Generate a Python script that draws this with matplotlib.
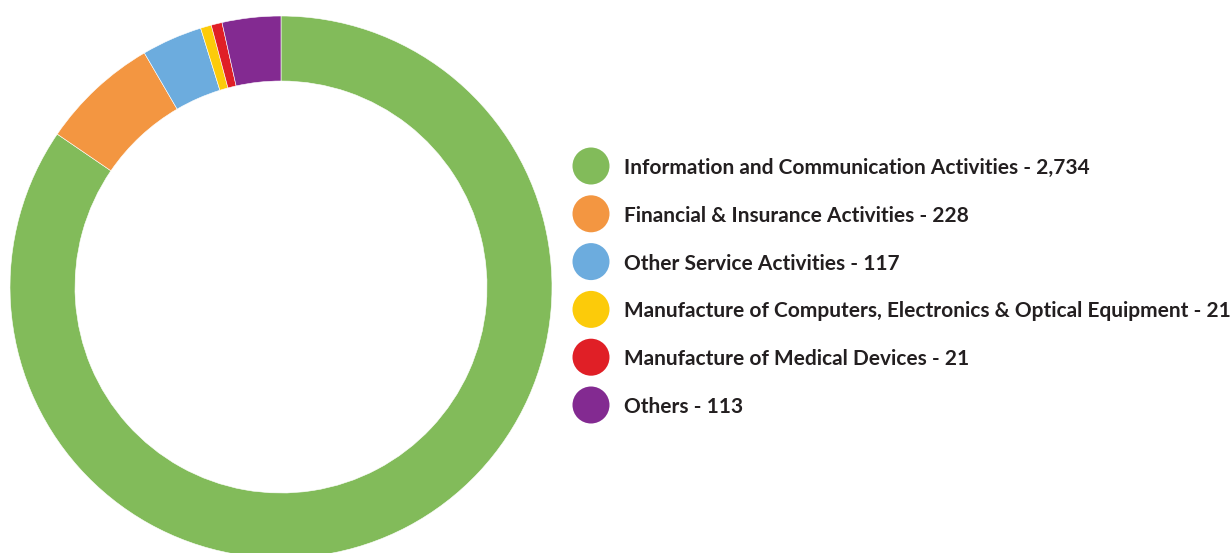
import matplotlib
matplotlib.use("Agg")
import matplotlib.pyplot as plt
from matplotlib.patches import Circle

categories = [
    "Information and Communication Activities",
    "Financial & Insurance Activities",
    "Other Service Activities",
    "Manufacture of Computers, Electronics & Optical Equipment",
    "Manufacture of Medical Devices",
    "Others",
]
values = [2734, 228, 117, 21, 21, 113]
colors = ["#82BB5A", "#F39641", "#6CACDE", "#FCCB0A", "#E01F26", "#832A91"]

W, H = 1230, 553
fig = plt.figure(figsize=(W / 100, H / 100), dpi=100)
ax = fig.add_axes([0, 0, 1, 1])
ax.set_axis_off()

ax.pie(values, colors=colors, startangle=90, counterclock=False,
       center=(281, H - 287), radius=271,
       wedgeprops=dict(width=65, edgecolor="white", linewidth=0.4))
ax.set_xlim(0, W)
ax.set_ylim(0, H)
ax.set_aspect("equal")

row_y0 = 166
row_step = 47.8
for i, (cat, val, col) in enumerate(zip(categories, values, colors)):
    y = H - (row_y0 + i * row_step)
    ax.add_patch(Circle((591, y), 18.5, color=col, lw=0))
    ax.text(624, y, f"{cat} - {val:,}", fontsize=15, fontweight=700,
            family=["Lato", "DejaVu Sans"], color="#231F20",
            va="center_baseline", ha="left")

fig.savefig("out.png", dpi=100, facecolor="white")
